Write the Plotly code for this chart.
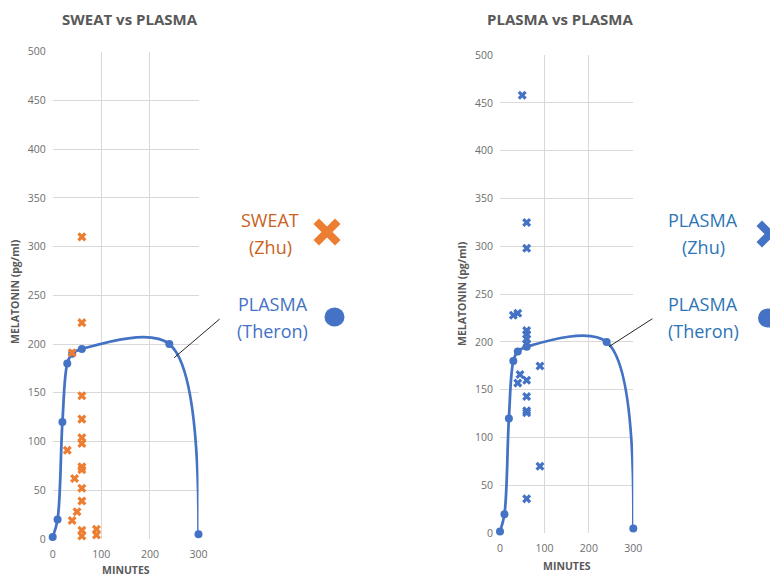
import plotly.graph_objects as go

# ---- data ----
theron_min = [0, 10, 20, 30, 40, 60, 240, 300]
theron_val = [2, 20, 120, 180, 190, 195, 200, 5]

sweat_min = [60, 60, 40, 60, 60, 60, 60, 30, 60, 60, 45, 60, 50, 60, 40, 60, 60, 90, 90]
sweat_val = [310, 222, 191, 147, 123, 104, 98, 91, 74, 71, 62, 52, 28, 39, 19, 9, 3, 10, 4]

plasma_zhu_min = [50, 60, 60, 30, 40, 60, 60, 60, 60, 90, 45, 40, 60, 60, 60, 60, 90, 60]
plasma_zhu_val = [458, 325, 298, 228, 230, 212, 208, 203, 198, 175, 166, 157, 160, 143, 128, 126, 70, 36]

x_ticks = [0, 100, 200, 300]
y_ticks = list(range(0, 501, 50))

BLUE = "#4472C4"
ORANGE = "#ED7D31"
GRAY = "#595959"
TICK_GRAY = "#6E6E6E"
GRID = "#D9D9D9"
FONT = "Open Sans"

# page body has an 8px margin; figure sized to fit the 778x577 window
OFF = 8
W, H = 778 - OFF, 577 - OFF


def fx(px):
    return (px - OFF) / W


def fy(py):
    return 1 - (py - OFF) / H


fig = go.Figure()

line_style = dict(color=BLUE, width=2.75, shape="spline", smoothing=1.0)

# left subplot
fig.add_trace(go.Scatter(x=theron_min, y=theron_val, mode="lines+markers",
                         line=line_style, marker=dict(size=8, color=BLUE),
                         xaxis="x", yaxis="y", cliponaxis=False))
fig.add_trace(go.Scatter(x=sweat_min, y=sweat_val, mode="markers",
                         marker=dict(symbol="x", size=8, color=ORANGE, line=dict(width=0)),
                         xaxis="x", yaxis="y", cliponaxis=False))
# right subplot
fig.add_trace(go.Scatter(x=theron_min, y=theron_val, mode="lines+markers",
                         line=line_style, marker=dict(size=8, color=BLUE),
                         xaxis="x2", yaxis="y2", cliponaxis=False))
fig.add_trace(go.Scatter(x=plasma_zhu_min, y=plasma_zhu_val, mode="markers",
                         marker=dict(symbol="x", size=8, color=BLUE, line=dict(width=0)),
                         xaxis="x2", yaxis="y2", cliponaxis=False))

ax_common = dict(showgrid=True, gridcolor=GRID, gridwidth=1, zeroline=False, automargin=False,
                 showline=False, ticks="", tickfont=dict(family=FONT, size=10.5, color=TICK_GRAY),
                 fixedrange=True)

fig.update_layout(
    width=W, height=H,
    margin=dict(l=0, r=0, t=0, b=0, pad=0, autoexpand=False),
    paper_bgcolor="white", plot_bgcolor="white",
    showlegend=False,
    xaxis=dict(domain=[fx(52.7), fx(198.5)], range=[0, 300], tickvals=x_ticks, anchor="y",
               ticklabelstandoff=7, **ax_common),
    yaxis=dict(domain=[fy(539), fy(51.7)], range=[0, 500], tickvals=y_ticks, anchor="x",
               ticklabelstandoff=6, **ax_common),
    xaxis2=dict(domain=[fx(500), fx(633.3)], range=[0, 300], tickvals=x_ticks, anchor="y2",
                ticklabelstandoff=7, **ax_common),
    yaxis2=dict(domain=[fy(533.3), fy(55)], range=[0, 500], tickvals=y_ticks, anchor="x2",
                ticklabelstandoff=6, **ax_common),
)

ann = []


def txt(x, y, s, size, color, bold=False, angle=0):
    ann.append(dict(x=fx(x), y=fy(y), xref="paper", yref="paper",
                    text=("<b>%s</b>" % s) if bold else s,
                    showarrow=False, xanchor="center", yanchor="middle", textangle=angle,
                    font=dict(family=FONT, size=size, color=color)))


# titles
txt(130, 19, "SWEAT vs PLASMA", 15, GRAY, bold=True)
txt(560, 19, "PLASMA vs PLASMA", 15, GRAY, bold=True)
# axis titles
txt(15, 292, "MELATONIN (pg/ml)", 10.5, GRAY, bold=True, angle=-90)
txt(462, 294, "MELATONIN (pg/ml)", 10.5, GRAY, bold=True, angle=-90)
txt(126, 570, "MINUTES", 10.5, GRAY, bold=True)
txt(566.7, 566, "MINUTES", 10.5, GRAY, bold=True)
# custom legends
ORANGE_TXT = "#C9621C"
BLUE_TXT_R = "#2E75B6"
txt(270, 220, "SWEAT", 18, ORANGE_TXT)
txt(270, 247, "(Zhu)", 18, ORANGE_TXT)
txt(272.5, 304, "PLASMA", 18, BLUE)
txt(272.5, 331, "(Theron)", 18, BLUE)
txt(703, 220, "PLASMA", 18, BLUE_TXT_R)
txt(703, 247, "(Zhu)", 18, BLUE_TXT_R)
txt(703, 304, "PLASMA", 18, BLUE_TXT_R)
txt(703, 331, "(Theron)", 18, BLUE_TXT_R)

# leader lines
ann.append(dict(x=250, y=186, xref="x", yref="y", text="", showarrow=True, arrowhead=0,
                arrowwidth=1, arrowcolor="#262626", ax=47, ay=-40, standoff=0, startstandoff=0))
ann.append(dict(x=245, y=195, xref="x2", yref="y2", text="", showarrow=True, arrowhead=0,
                arrowwidth=1, arrowcolor="#262626", ax=45, ay=-29, standoff=0, startstandoff=0))

fig.update_layout(annotations=ann)


# legend glyphs
def x_path(r, t):
    pts = [(0, t), (r - t, r), (r, r - t), (t, 0), (r, -(r - t)), (r - t, -r), (0, -t),
           (-(r - t), -r), (-r, -(r - t)), (-t, 0), (-r, r - t), (-(r - t), r)]
    return "M" + "L".join("%g,%g" % p for p in pts) + "Z"


shapes = []
for (cx, cy, col) in [(327, 232, ORANGE), (770, 234, BLUE)]:
    shapes.append(dict(type="path", xref="paper", yref="paper", xsizemode="pixel", ysizemode="pixel",
                       xanchor=fx(cx), yanchor=fy(cy), path=x_path(13.5, 5.5),
                       fillcolor=col, line=dict(width=0)))
for (cx, cy) in [(334.5, 317), (768, 318)]:
    shapes.append(dict(type="circle", xref="paper", yref="paper", xsizemode="pixel", ysizemode="pixel",
                       xanchor=fx(cx), yanchor=fy(cy), x0=-10, x1=10, y0=-9.5, y1=9.5,
                       fillcolor=BLUE, line=dict(width=0)))
fig.update_layout(shapes=shapes)

fig.write_html("out.html")
